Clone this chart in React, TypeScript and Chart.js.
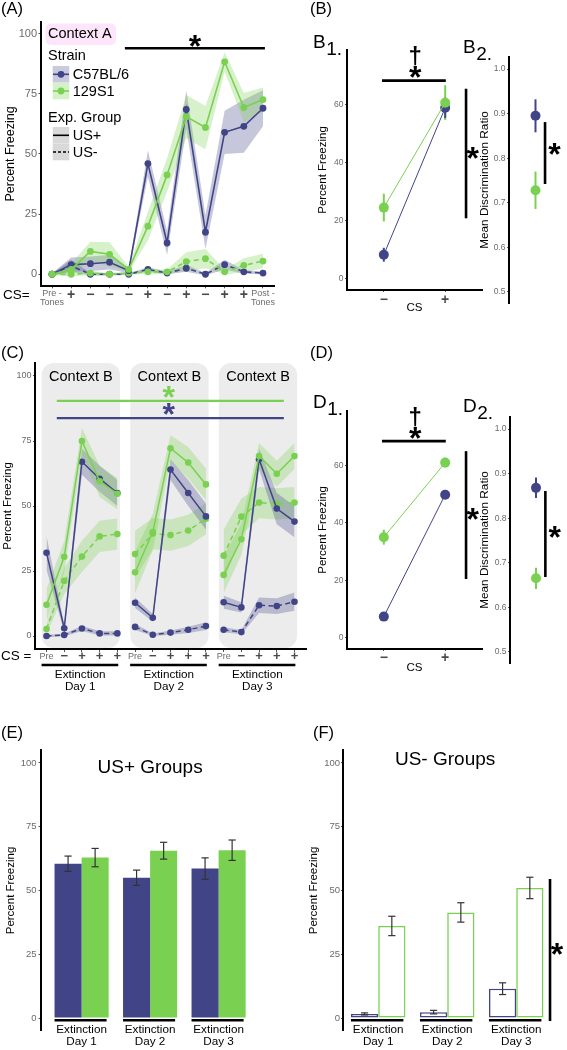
import React, { useEffect, useRef } from 'react';
import { Chart, registerables } from 'chart.js';

Chart.register(...registerables);

const FONT = '"Liberation Sans", Arial, Helvetica, sans-serif';
const BLUE = '#414487';
const GREEN = '#7AD151';
const BLUE_RIBBON = 'rgba(65, 68, 135, 0.3)';
const GREEN_RIBBON = 'rgba(122, 209, 81, 0.3)';
const TICK_GRAY = '#6b6b6b';
const SIGN_GRAY = '#4a4a4a';

// ---------------- data ----------------
const pctTicks = [0, 25, 50, 75, 100];
const csPctTicks = [0, 20, 40, 60];
const ratioTicks = [0.5, 0.6, 0.7, 0.8, 0.9, 1.0];

// (A) Context A – conditioning
const aTickLabels: (string | string[])[] = [['Pre -', 'Tones'], '+', '−', '−', '−', '+', '−', '+', '−', '+', '+', ['Post -', 'Tones']];
const aC57Plus = [0, 4, 4.4, 5, 1.5, 46, 13, 68.5, 17.5, 59, 61.5, 69];
const aC57PlusSE = [0.4, 3, 3, 3, 1, 5.5, 5, 8, 7, 9, 11, 7.5];
const a129Plus = [0, 2, 9.5, 8.3, 2, 20, 41.3, 65.5, 61, 88.3, 69.3, 72.6];
const a129PlusSE = [0.4, 2.5, 4, 5, 1, 6, 7, 9, 9, 4, 6, 5];
const aC57Minus = [0, 3.5, 0, 0, 0, 2, 0.5, 2.5, 0, 4, 1, 0.5];
const aC57MinusSE = [0.3, 2.5, 0.5, 0.5, 0.3, 1, 0.5, 1.5, 0.5, 2, 0.8, 0.5];
const a129Minus = [0, 0, 0.5, 0, 0.5, 1, 1, 5.2, 6.5, 1, 3.7, 5.5];
const a129MinusSE = [0.3, 0.8, 1, 0.5, 0.5, 1, 1, 4, 4, 1, 3, 3];

// (B) CS discrimination, Context A
const csLabels = ['−', '+'];
const b1C57 = [8.2, 59];
const b1C57SE = [2.4, 3.5];
const b1S129 = [24.5, 60.8];
const b1S129SE = [4.8, 6];
const b2Ratio = [0.895, 0.728]; // C57BL/6, 129S1
const b2RatioSE = [0.037, 0.042];

// (C) Context B – extinction days
const cTickLabels = ['Pre', '−', '+', '+', '+', 'Pre', '−', '+', '+', '+', 'Pre', '−', '+', '+', '+'];
const dayLabels = ['Day 1', 'Day 2', 'Day 3'];
const cC57Plus = [32, 3, 67, 60.5, 55, 12.8, 7, 64, 55, 46, 13, 11, 68, 49, 44];
const cC57PlusSE = [6.5, 1.5, 5, 5, 5, 2, 1.5, 4, 5, 5, 2.5, 2, 4, 6, 6];
const c129Plus = [12, 30.5, 75, 59.5, 54.7, 24.5, 40, 72.2, 66.7, 58.3, 23.5, 37.2, 69.2, 62.4, 69.2];
const c129PlusSE = [6, 6, 5, 6, 6, 8, 7, 5, 6, 6, 7, 6, 5, 5, 5];
const cC57Minus = [0, 0.4, 2.9, 1, 1, 3.5, 0.5, 1.3, 2.4, 3.8, 2.4, 1.5, 11.8, 11.5, 13.2];
const cC57MinusSE = [0.5, 0.5, 1, 0.8, 0.8, 1.2, 0.5, 0.8, 1.2, 1.5, 1, 0.8, 3, 3, 3.5];
const c129Minus = [2.7, 21.2, 30.6, 38.3, 39.2, 31.5, 39.4, 38.8, 40.6, 45.1, 30.9, 45.9, 51.3, 50.8, 51.3];
const c129MinusSE = [2, 5, 6, 6, 6, 9, 6, 6, 6, 6, 10, 7, 6, 6, 6];

// (D) CS discrimination, extinction
const d1C57 = [7.3, 49.8];
const d1C57SE = [1, 1.5];
const d1S129 = [35, 61];
const d1S129SE = [2.6, 1.7];
const d2Ratio = [0.868, 0.665];
const d2RatioSE = [0.023, 0.024];

// (E) US+ groups, (F) US- groups
const eC57 = [60.5, 55, 58.6];
const eC57SE = [3, 3, 4.2];
const e129 = [62.9, 65.6, 65.8];
const e129SE = [3.6, 3.3, 4];
const fC57 = [1.6, 2.3, 11.5];
const fC57SE = [0.4, 0.7, 2.3];
const f129 = [36.1, 41.4, 51];
const f129SE = [3.8, 3.8, 4.2];

// ---------------- helpers ----------------
type Box = { x: number; y: number; w: number; h: number };
type Area = { l: number; t: number; r: number; b: number };

function pad(box: Box, area: Area, yw: number, xh: number) {
  return { left: area.l - box.x - yw, top: area.t - box.y, right: box.x + box.w - area.r, bottom: box.y + box.h - area.b - xh };
}

function common(box: Box, area: Area, yw: number, xh: number) {
  return {
    responsive: false,
    animation: false,
    devicePixelRatio: 1,
    events: [],
    layout: { padding: pad(box, area, yw, xh) },
    plugins: { legend: { display: false }, tooltip: { enabled: false } },
  };
}

function yAxis(o: any) {
  return {
    type: 'linear', position: 'left', min: o.min, max: o.max, bounds: 'data',
    afterBuildTicks: (ax: any) => { ax.ticks = o.ticks.map((v: number) => ({ value: v })); },
    afterFit: (ax: any) => { ax.width = o.width; },
    ticks: { font: { family: FONT, size: o.size }, color: TICK_GRAY, padding: o.tickPad ?? 1.5, callback: (v: any) => Number(v).toFixed(o.decimals ?? 0) },
    grid: { drawOnChartArea: false, drawTicks: true, tickLength: 2, color: '#555', lineWidth: 1 },
    border: { display: true, color: '#000', width: 2 },
    title: { display: true, text: o.title, color: '#000', font: { family: FONT, size: o.titleSize }, padding: { top: o.titlePad, bottom: 0 } },
  };
}

function xAxis(o: any) {
  return {
    type: 'linear', position: 'bottom', min: o.min, max: o.max, bounds: 'data', offset: false,
    afterBuildTicks: (ax: any) => { ax.ticks = o.labels.map((_: any, i: number) => ({ value: i })); },
    afterFit: (ax: any) => { ax.height = o.height; },
    ticks: {
      autoSkip: false, maxRotation: 0, minRotation: 0, padding: 0,
      callback: (_v: any, i: number) => o.labels[i],
      font: (c: any) => o.font(c.index),
      color: (c: any) => o.color(c.index),
    },
    grid: { drawOnChartArea: false, drawTicks: true, tickLength: o.tickLength, color: '#555' },
    border: { display: true, color: '#000', width: 2 },
    title: o.title
      ? { display: true, text: o.title, color: '#000', font: { family: FONT, size: 11.5 }, padding: { top: 0, bottom: o.titlePad } }
      : { display: false },
  };
}

function lineRibbon(vals: number[], se: number[], color: string, ribbon: string, dashed: boolean, x0: number, order: number, radius: number, width: number) {
  const pts = (f: (v: number, i: number) => number) => vals.map((v, i) => ({ x: x0 + i, y: f(v, i) }));
  return [
    { data: pts((v, i) => v + se[i]), borderWidth: 0, borderColor: 'transparent', pointRadius: 0, fill: '+1', backgroundColor: ribbon, order: 20 },
    { data: pts((v, i) => v - se[i]), borderWidth: 0, borderColor: 'transparent', pointRadius: 0, fill: false, order: 20 },
    {
      data: pts((v) => v), borderColor: color, backgroundColor: color, borderWidth: width,
      borderDash: dashed ? [5, 3.5] : [], pointRadius: radius, pointBackgroundColor: color,
      pointBorderWidth: 0, fill: false, order, tension: 0,
    },
  ];
}

function txt(ctx: CanvasRenderingContext2D, s: string, x: number, y: number, size: number, o: any = {}) {
  ctx.save();
  ctx.font = `${o.weight ?? 'normal'} ${size}px ${FONT}`;
  ctx.fillStyle = o.color ?? '#000';
  ctx.textAlign = o.align ?? 'left';
  ctx.textBaseline = o.baseline ?? 'middle';
  ctx.fillText(s, x, y);
  ctx.restore();
}

function star(ctx: CanvasRenderingContext2D, x: number, y: number, color = '#000', size = 32) {
  txt(ctx, '*', x, y + 0.47 * size, size, { weight: 'bold', color, align: 'center', baseline: 'alphabetic' });
}

function dagger(ctx: CanvasRenderingContext2D, x: number, y: number, size = 24) {
  txt(ctx, '†', x, y + 0.3 * size, size, { weight: 'bold', align: 'center', baseline: 'alphabetic' });
}

function seg(ctx: CanvasRenderingContext2D, x0: number, y0: number, x1: number, y1: number, color = '#000', w = 2.5, dash: number[] = []) {
  ctx.save();
  ctx.strokeStyle = color;
  ctx.lineWidth = w;
  ctx.setLineDash(dash);
  ctx.beginPath();
  ctx.moveTo(x0, y0);
  ctx.lineTo(x1, y1);
  ctx.stroke();
  ctx.restore();
}

function panelLabel(ctx: CanvasRenderingContext2D, s: string, x: number, y: number) {
  txt(ctx, s, x, y, 16.5);
}

function subLabel(ctx: CanvasRenderingContext2D, letter: string, sub: string, x: number, base: number) {
  ctx.save();
  ctx.font = `19px ${FONT}`;
  const w = ctx.measureText(letter).width;
  ctx.restore();
  txt(ctx, letter, x, base, 19, { baseline: 'alphabetic' });
  txt(ctx, sub, x + w + 0.5, base + 6.5, 19, { baseline: 'alphabetic' });
}

function scalesOf(chart: any) {
  return {
    X: (v: number) => chart.scales.x.getPixelForValue(v),
    Y: (v: number) => chart.scales.y.getPixelForValue(v),
  };
}

// ---------------- layout boxes ----------------
const boxA: Box = { x: 0, y: 0, w: 290, h: 320 };
const areaA: Area = { l: 40.5, t: 21.6, r: 274.5, b: 286.3 };
const boxB1: Box = { x: 290, y: 0, w: 210, h: 320 };
const areaB1: Area = { l: 347, t: 50, r: 482, b: 290 };
const boxB2: Box = { x: 455, y: 0, w: 112, h: 320 };
const areaB2: Area = { l: 509, t: 57, r: 565, b: 303 };
const boxC: Box = { x: 0, y: 320, w: 310, h: 380 };
const areaC: Area = { l: 35, t: 363, r: 308, b: 649 };
const boxD1: Box = { x: 290, y: 320, w: 210, h: 360 };
const areaD1: Area = { l: 347, t: 411, r: 482, b: 649 };
const boxD2: Box = { x: 455, y: 320, w: 112, h: 360 };
const areaD2: Area = { l: 510, t: 417, r: 565, b: 663 };
const boxE: Box = { x: 0, y: 700, w: 290, h: 350 };
const areaE: Area = { l: 40.5, t: 750.25, r: 259.7, b: 1030.75 };
const boxF: Box = { x: 290, y: 700, w: 277, h: 350 };
const areaF: Area = { l: 343, t: 750.25, r: 565, b: 1030.75 };

// ---------------- panel A ----------------
function configA() {
  const yw = 40.5;
  const xh = boxA.y + boxA.h - areaA.b;
  return {
    type: 'line',
    data: {
      datasets: [
        ...lineRibbon(a129Plus, a129PlusSE, GREEN, GREEN_RIBBON, false, 0, 0, 3.4, 1.6),
        ...lineRibbon(aC57Plus, aC57PlusSE, BLUE, BLUE_RIBBON, false, 0, 1, 3.4, 1.6),
        ...lineRibbon(a129Minus, a129MinusSE, GREEN, GREEN_RIBBON, true, 0, 2, 3.4, 1.6),
        ...lineRibbon(aC57Minus, aC57MinusSE, BLUE, BLUE_RIBBON, true, 0, 3, 3.4, 1.6),
      ],
    },
    options: {
      ...common(boxA, areaA, yw, xh),
      scales: {
        x: xAxis({
          min: -0.6, max: 11.6, labels: aTickLabels, height: xh, tickLength: 2,
          font: (i: number) => (i === 0 || i === 11 ? { family: FONT, size: 9, lineHeight: 1.08 } : { family: FONT, size: 14, weight: 'bold', lineHeight: 0.96 }),
          color: (i: number) => (i === 0 || i === 11 ? TICK_GRAY : SIGN_GRAY),
        }),
        y: yAxis({ min: -5, max: 105, ticks: pctTicks, width: yw, size: 11, title: 'Percent Freezing', titleSize: 12.5, titlePad: 3.5 }),
      },
    },
    plugins: [{
      id: 'annA',
      afterDraw(chart: any) {
        const ctx = chart.ctx as CanvasRenderingContext2D;
        const { X, Y } = scalesOf(chart);
        panelLabel(ctx, '(A)', 1, 9);
        txt(ctx, 'CS=', 3, 295, 13.5);
        seg(ctx, X(3.8), Y(93.9), X(11.1), Y(93.9), '#000', 2.6);
        star(ctx, X(7.45), Y(96.6));
        // legend
        ctx.save();
        ctx.fillStyle = '#fde5fb';
        ctx.beginPath();
        (ctx as any).roundRect(45.5, 23.5, 70.5, 21.5, 5);
        ctx.fill();
        ctx.restore();
        txt(ctx, 'Context A', 48, 34.3, 14.5);
        txt(ctx, 'Strain', 48, 56, 14.5);
        const keys = [
          { y: 66, bg: '#c9cadd', color: BLUE, dash: [] as number[], dot: true, label: 'C57BL/6' },
          { y: 82.7, bg: '#d6f0c9', color: GREEN, dash: [] as number[], dot: true, label: '129S1' },
          { y: 127, bg: '#d9d9d9', color: '#000', dash: [] as number[], dot: false, label: 'US+' },
          { y: 143.7, bg: '#d9d9d9', color: '#000', dash: [3, 2], dot: false, label: 'US-' },
        ];
        keys.forEach((k) => {
          ctx.save();
          ctx.fillStyle = k.bg;
          ctx.fillRect(52.7, k.y, 16.6, 16.6);
          ctx.restore();
          const cy = k.y + 8.3;
          seg(ctx, 53, cy, 69, cy, k.color, 1.6, k.dash);
          if (k.dot) {
            ctx.save();
            ctx.fillStyle = k.color;
            ctx.beginPath();
            ctx.arc(61, cy, 3.4, 0, Math.PI * 2);
            ctx.fill();
            ctx.restore();
          }
          txt(ctx, k.label, 72.7, cy + 0.6, 14.5);
        });
        txt(ctx, 'Exp. Group', 48, 118, 14.5);
      },
    }],
  };
}

// ---------------- panels B1 / D1 ----------------
function configCS(box: Box, area: Area, c57: number[], c57se: number[], s129: number[], s129se: number[], opts: any) {
  const yw = area.l - box.x;
  const xh = box.y + box.h - area.b;
  return {
    type: 'line',
    data: {
      datasets: [
        { data: s129.map((v, i) => ({ x: i, y: v })), borderColor: GREEN, backgroundColor: GREEN, borderWidth: 1, pointRadius: 5, pointBorderWidth: 0, order: 0, fill: false },
        { data: c57.map((v, i) => ({ x: i, y: v })), borderColor: BLUE, backgroundColor: BLUE, borderWidth: 1, pointRadius: 5, pointBorderWidth: 0, order: 1, fill: false },
      ],
    },
    options: {
      ...common(box, area, yw, xh),
      scales: {
        x: xAxis({
          min: -0.6, max: 1.6, labels: csLabels, height: xh, tickLength: 2, title: 'CS', titlePad: 5.1,
          font: () => ({ family: FONT, size: 14, weight: 'bold', lineHeight: opts.signLH }),
          color: () => SIGN_GRAY,
        }),
        y: yAxis({ min: -4, max: 79, ticks: csPctTicks, width: yw, size: 8.5, title: 'Percent Freezing', titleSize: 11.5, titlePad: 25.6 }),
      },
    },
    plugins: [{
      id: 'annCS',
      beforeDatasetsDraw(chart: any) {
        const ctx = chart.ctx as CanvasRenderingContext2D;
        const { X, Y } = scalesOf(chart);
        [[s129, s129se, GREEN], [c57, c57se, BLUE]].forEach(([vals, se, color]: any) => {
          vals.forEach((v: number, i: number) => seg(ctx, X(i), Y(v - se[i]), X(i), Y(v + se[i]), color, 2));
        });
      },
      afterDraw(chart: any) {
        const ctx = chart.ctx as CanvasRenderingContext2D;
        const { X, Y } = scalesOf(chart);
        if (opts.panel) panelLabel(ctx, opts.panel, 20, opts.panelY);
        subLabel(ctx, opts.letter, '1.', 23, opts.subBase);
        seg(ctx, X(-0.03), Y(opts.lineY), X(1.01), Y(opts.lineY), '#000', 2.6);
        star(ctx, X(0.51), Y(opts.lineY + 2.6));
        dagger(ctx, X(0.51), Y(opts.lineY + 8.2));
        seg(ctx, X(1.34), Y(opts.v0), X(1.34), Y(opts.v1), '#000', 2.6);
        star(ctx, X(1.45), Y(opts.vStar));
      },
    }],
  };
}

// ---------------- panels B2 / D2 ----------------
function configRatio(box: Box, area: Area, vals: number[], se: number[], opts: any) {
  const yw = area.l - box.x;
  return {
    type: 'scatter',
    data: {
      datasets: [
        { data: [{ x: 0.5, y: vals[0] }], backgroundColor: BLUE, pointRadius: 5, pointBorderWidth: 0 },
        { data: [{ x: 0.5, y: vals[1] }], backgroundColor: GREEN, pointRadius: 5, pointBorderWidth: 0 },
      ],
    },
    options: {
      ...common(box, area, yw, 0),
      scales: {
        x: { type: 'linear', display: false, min: 0, max: 1, bounds: 'data' },
        y: yAxis({ min: 0.475, max: 1.027, ticks: ratioTicks, width: yw, size: 8.5, title: 'Mean Discrimination Ratio', titleSize: 11.8, titlePad: 23, decimals: 1 }),
      },
    },
    plugins: [{
      id: 'annRatio',
      beforeDatasetsDraw(chart: any) {
        const ctx = chart.ctx as CanvasRenderingContext2D;
        const { X, Y } = scalesOf(chart);
        [BLUE, GREEN].forEach((color, i) => seg(ctx, X(0.5), Y(vals[i] - se[i]), X(0.5), Y(vals[i] + se[i]), color, 2));
      },
      afterDraw(chart: any) {
        const ctx = chart.ctx as CanvasRenderingContext2D;
        const { X, Y } = scalesOf(chart);
        subLabel(ctx, opts.letter, '2.', 8, opts.subBase);
        seg(ctx, X(0.68), Y(opts.v0), X(0.68), Y(opts.v1), '#000', 2.6);
        star(ctx, X(0.86), Y(opts.vStar));
      },
    }],
  };
}

// ---------------- panel C ----------------
function configC() {
  const yw = areaC.l - boxC.x;
  const xh = boxC.y + boxC.h - areaC.b;
  const datasets: any[] = [];
  for (let d = 0; d < 3; d++) {
    const s = d * 5;
    const e = s + 5;
    datasets.push(
      ...lineRibbon(c129Plus.slice(s, e), c129PlusSE.slice(s, e), GREEN, GREEN_RIBBON, false, s, 0, 3.3, 1.5),
      ...lineRibbon(cC57Plus.slice(s, e), cC57PlusSE.slice(s, e), BLUE, BLUE_RIBBON, false, s, 1, 3.3, 1.5),
      ...lineRibbon(c129Minus.slice(s, e), c129MinusSE.slice(s, e), GREEN, GREEN_RIBBON, true, s, 2, 3.3, 1.5),
      ...lineRibbon(cC57Minus.slice(s, e), cC57MinusSE.slice(s, e), BLUE, BLUE_RIBBON, true, s, 3, 3.3, 1.5),
    );
  }
  return {
    type: 'line',
    data: { datasets },
    options: {
      ...common(boxC, areaC, yw, xh),
      scales: {
        x: xAxis({
          min: -0.65, max: 14.65, labels: cTickLabels, height: xh, tickLength: 3,
          font: (i: number) => (i % 5 === 0 ? { family: FONT, size: 9, lineHeight: 1 } : { family: FONT, size: 13, weight: 'bold', lineHeight: 0.62 }),
          color: (i: number) => (i % 5 === 0 ? TICK_GRAY : SIGN_GRAY),
        }),
        y: yAxis({ min: -5, max: 105, ticks: pctTicks, width: yw, size: 9, title: 'Percent Freezing', titleSize: 11.5, titlePad: 1 }),
      },
    },
    plugins: [{
      id: 'annC',
      beforeDatasetsDraw(chart: any) {
        const ctx = chart.ctx as CanvasRenderingContext2D;
        const { X, Y } = scalesOf(chart);
        const { top, bottom } = chart.chartArea;
        for (let d = 0; d < 3; d++) {
          const x0 = X(5 * d - 0.27);
          const x1 = X(5 * d + 4.15);
          ctx.save();
          ctx.fillStyle = '#ececec';
          ctx.beginPath();
          (ctx as any).roundRect(x0, top, x1 - x0, bottom - top - 1, 12);
          ctx.fill();
          ctx.restore();
          txt(ctx, 'Context B', X(5 * d + 1.94), Y(99.6), 14.5, { align: 'center' });
        }
      },
      afterDraw(chart: any) {
        const ctx = chart.ctx as CanvasRenderingContext2D;
        const { X, Y } = scalesOf(chart);
        const { bottom } = chart.chartArea;
        panelLabel(ctx, '(C)', 1, 33);
        seg(ctx, X(0.58), Y(90.4), X(13.4), Y(90.4), GREEN, 2.2);
        seg(ctx, X(0.58), Y(83.8), X(13.4), Y(83.8), BLUE, 2.2);
        star(ctx, X(6.9), Y(93.5), GREEN);
        star(ctx, X(6.9), Y(86.9), BLUE);
        txt(ctx, 'CS =', 1, 336, 13.5);
        for (let d = 0; d < 3; d++) {
          seg(ctx, X(5 * d - 0.28), bottom + 16, X(5 * d + 4.05), bottom + 16, '#000', 2.6);
          txt(ctx, 'Extinction', X(5 * d + 1.9), bottom + 26, 11.7, { align: 'center' });
          txt(ctx, dayLabels[d], X(5 * d + 1.9), bottom + 37.5, 11.7, { align: 'center' });
        }
      },
    }],
  };
}

// ---------------- panels E / F ----------------
function configBars(box: Box, area: Area, c57: number[], c57se: number[], s129: number[], s129se: number[], opts: any) {
  const yw = area.l - box.x;
  const outlined = opts.outlined;
  const ds = (vals: number[], color: string) => ({
    data: vals.map((v, i) => ({ x: i, y: v })),
    backgroundColor: outlined ? '#ffffff' : color,
    borderColor: color,
    borderWidth: outlined ? 1.6 : 0,
    borderSkipped: false,
    categoryPercentage: 0.79,
    barPercentage: 1,
  });
  return {
    type: 'bar',
    data: { datasets: [ds(c57, BLUE), ds(s129, GREEN)] },
    options: {
      ...common(box, area, yw, 0),
      scales: {
        x: {
          type: 'linear', display: false, min: opts.xMin, max: opts.xMax, offset: false, bounds: 'data',
          afterBuildTicks: (ax: any) => { ax.ticks = dayLabels.map((_, i) => ({ value: i })); },
        },
        y: yAxis({ min: -5, max: 105, ticks: pctTicks, width: yw, size: 9.5, title: 'Percent Freezing', titleSize: 11.5, titlePad: opts.titlePad, tickPad: opts.tickPad }),
      },
    },
    plugins: [{
      id: 'annBars',
      afterDatasetsDraw(chart: any) {
        const ctx = chart.ctx as CanvasRenderingContext2D;
        const { Y } = scalesOf(chart);
        [[c57, c57se], [s129, s129se]].forEach(([vals, se], di) => {
          const meta = chart.getDatasetMeta(di);
          vals.forEach((v: number, j: number) => {
            const x = meta.data[j].x;
            const y0 = Y(v - se[j]);
            const y1 = Y(v + se[j]);
            seg(ctx, x, y0, x, y1, '#333', 1.2);
            seg(ctx, x - 3.6, y0, x + 3.6, y0, '#333', 1.2);
            seg(ctx, x - 3.6, y1, x + 3.6, y1, '#333', 1.2);
          });
        });
      },
      afterDraw(chart: any) {
        const ctx = chart.ctx as CanvasRenderingContext2D;
        const { X, Y } = scalesOf(chart);
        const y0 = Y(0);
        panelLabel(ctx, opts.panel, opts.panelX, 33);
        txt(ctx, opts.title, X(opts.titleX), Y(opts.titleY), 19, { align: 'center' });
        for (let j = 0; j < 3; j++) {
          seg(ctx, X(j - 0.395), y0 + 2.3, X(j + 0.365), y0 + 2.3, '#000', 2.6);
          txt(ctx, 'Extinction', X(j), y0 + 11.5, 11.7, { align: 'center' });
          txt(ctx, dayLabels[j], X(j), y0 + 23.5, 11.7, { align: 'center' });
        }
        if (opts.sig) {
          seg(ctx, X(2.49), Y(-1.2), X(2.49), Y(54.5), '#000', 2.6);
          star(ctx, X(2.59), Y(26.7));
        }
      },
    }],
  };
}

// ---------------- React ----------------
function ChartBox({ box, config }: { box: Box; config: () => any }) {
  const ref = useRef<HTMLCanvasElement>(null);
  useEffect(() => {
    const chart = new Chart(ref.current as HTMLCanvasElement, config());
    return () => chart.destroy();
  }, []);
  return (
    <canvas
      ref={ref}
      width={box.w}
      height={box.h}
      style={{ position: 'absolute', left: box.x, top: box.y, width: box.w, height: box.h }}
    />
  );
}

export default function App() {
  return (
    <div style={{ position: 'absolute', left: 0, top: 0, width: 567, height: 1050, background: '#fff', overflow: 'hidden' }}>
      <ChartBox box={boxA} config={configA} />
      <ChartBox
        box={boxB1}
        config={() => configCS(boxB1, areaB1, b1C57, b1C57SE, b1S129, b1S129SE, { panel: '(B)', panelY: 9, letter: 'B', subBase: 48, signLH: 1.14, lineY: 68.4, v0: 20.8, v1: 65.6, vStar: 42.9 })}
      />
      <ChartBox box={boxB2} config={() => configRatio(boxB2, areaB2, b2Ratio, b2RatioSE, { letter: 'B', subBase: 53, v0: 0.742, v1: 0.881, vStar: 0.818 })} />
      <ChartBox box={boxC} config={configC} />
      <ChartBox
        box={boxD1}
        config={() => configCS(boxD1, areaD1, d1C57, d1C57SE, d1S129, d1S129SE, { panel: '(D)', panelY: 33, letter: 'D', subBase: 88, signLH: 1.0, lineY: 68.5, v0: 20.4, v1: 65, vStar: 42.7 })}
      />
      <ChartBox box={boxD2} config={() => configRatio(boxD2, areaD2, d2Ratio, d2RatioSE, { letter: 'D', subBase: 92, v0: 0.668, v1: 0.861, vStar: 0.767 })} />
      <ChartBox
        box={boxE}
        config={() => configBars(boxE, areaE, eC57, eC57SE, e129, e129SE, { outlined: false, xMin: -0.6, xMax: 2.6, titlePad: 4, tickPad: 2, panel: '(E)', panelX: 1, title: 'US+ Groups', titleX: 1.0, titleY: 98, sig: false })}
      />
      <ChartBox
        box={boxF}
        config={() => configBars(boxF, areaF, fC57, fC57SE, f129, f129SE, { outlined: true, xMin: -0.51, xMax: 2.707, titlePad: 17, tickPad: 1, panel: '(F)', panelX: 23, title: 'US- Groups', titleX: 0.97, titleY: 101.2, sig: true })}
      />
    </div>
  );
}
